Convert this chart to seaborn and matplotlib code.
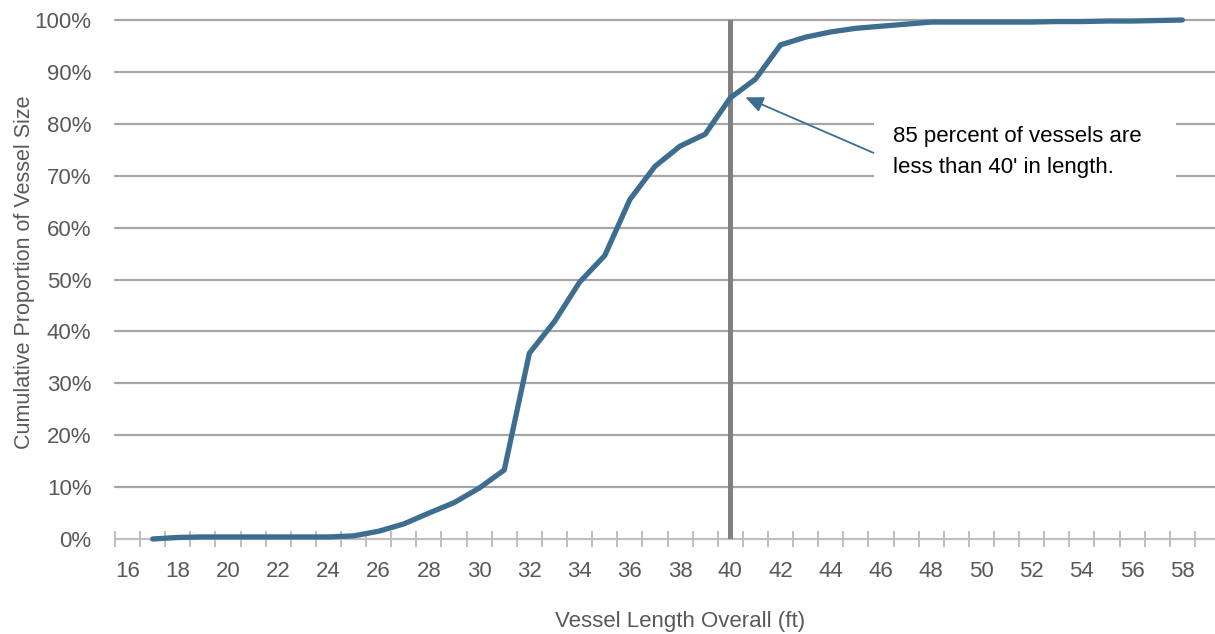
import numpy as np
import pandas as pd
import matplotlib
matplotlib.use("Agg")
import matplotlib.pyplot as plt
import seaborn as sns
from matplotlib.ticker import FixedLocator, FuncFormatter
from matplotlib.patches import Rectangle

# ---- data ----
vessel_length = [17, 18, 19, 20, 21, 22, 23, 24, 25, 26, 27, 28, 29, 30, 31, 32, 33, 34, 35, 36, 37,
                 38, 39, 40, 41, 42, 43, 44, 45, 46, 47, 48, 49, 50, 51, 52, 53, 54, 55, 56, 57, 58]
cum_share = [0.000, 0.003, 0.004, 0.004, 0.004, 0.004, 0.004, 0.004, 0.006, 0.015, 0.029, 0.050,
             0.070, 0.098, 0.133, 0.358, 0.419, 0.495, 0.546, 0.654, 0.718, 0.757, 0.780, 0.850,
             0.886, 0.952, 0.967, 0.977, 0.984, 0.988, 0.992, 0.996, 0.996, 0.996, 0.996, 0.996,
             0.997, 0.997, 0.998, 0.998, 0.999, 1.000]
x_tick_labels = list(range(16, 59, 2))
y_ticks = [0.0, 0.1, 0.2, 0.3, 0.4, 0.5, 0.6, 0.7, 0.8, 0.9, 1.0]
marker_length = 40
note_text = "85 percent of vessels are\nless than 40' in length."

df = pd.DataFrame({"length": vessel_length, "share": cum_share})

sns.set_theme(style="white")
plt.rcParams['font.family'] = ['Liberation Sans', 'DejaVu Sans']

W, H = 1215, 634
fig = plt.figure(figsize=(W / 100, H / 100), dpi=100)
left_px, right_px, top_px, bottom_px = 115, 1215, 20, 539
ax = fig.add_axes([left_px / W, (H - bottom_px) / H, (right_px - left_px) / W, (bottom_px - top_px) / H])

grid_color = "#A6A6A6"
text_gray = "#595959"
line_color = "#3D6E8F"

ax.set_xlim(15.5, 59.3)
ax.set_ylim(0, 1)

for y in y_ticks[1:]:
    ax.axhline(y, color=grid_color, lw=1.6, zorder=0, clip_on=False)

ax.axvline(marker_length, ymin=0, ymax=1, color="#808080", lw=3.6, zorder=2)

sns.lineplot(data=df, x="length", y="share", ax=ax, color=line_color, lw=3.8,
             zorder=3, clip_on=False)
for ln in ax.lines:
    ln.set_solid_capstyle("round")

# annotation: white backing box, text, arrow
def px2data(px, py):
    return ax.transData.inverted().transform(fig.transFigure.transform((px / W, 1 - py / H)))

(bx0, by0) = px2data(874, 205)
(bx1, by1) = px2data(1176, 98)
ax.add_patch(Rectangle((bx0, by0), bx1 - bx0, by1 - by0, facecolor="white", edgecolor="none",
                       zorder=1))
tx, ty = px2data(893, 152)
ax.text(tx, ty, note_text, fontsize=16, color="black", ha="left", va="center",
        multialignment="left", linespacing=1.65, zorder=4)
ax.annotate("", xy=(40.6, 0.851), xytext=(45.7, 0.744),
            arrowprops=dict(arrowstyle="-|>,head_length=0.9,head_width=0.4",
                            color=line_color, lw=1.3, shrinkA=0, shrinkB=0), zorder=5)

# axes styling
for s in ["top", "right", "left"]:
    ax.spines[s].set_visible(False)
ax.spines["bottom"].set_color("#BFBFBF")
ax.spines["bottom"].set_linewidth(1.6)
ax.spines["bottom"].set_zorder(1)

ax.xaxis.set_major_locator(FixedLocator(x_tick_labels))
ax.xaxis.set_major_formatter(FuncFormatter(lambda v, p: f"{int(round(v))}"))
ax.xaxis.set_minor_locator(FixedLocator(np.arange(15.5, 60, 1.0)))
ax.tick_params(axis="x", which="major", length=0, pad=16, labelsize=16, labelcolor=text_gray)
ax.tick_params(axis="x", which="minor", length=12, width=1.4, direction="inout", color="#BFBFBF",
               bottom=True)

ax.set_yticks(y_ticks)
ax.yaxis.set_major_formatter(FuncFormatter(lambda v, p: f"{v:.0%}"))
ax.tick_params(axis="y", which="major", length=0, pad=17, labelsize=16, labelcolor=text_gray)

ax.set_xlabel("Vessel Length Overall (ft)", fontsize=16, color=text_gray)
ax.set_ylabel("Cumulative Proportion of Vessel Size", fontsize=15.5, color=text_gray)
ax.xaxis.set_label_coords((680 - left_px) / (right_px - left_px), -(611 - bottom_px) / (bottom_px - top_px))
ax.xaxis.label.set_va("top")
ax.yaxis.set_label_coords(-(115 - 35) / (right_px - left_px), (539 - 272) / (bottom_px - top_px))

fig.savefig("out.png", dpi=100)
